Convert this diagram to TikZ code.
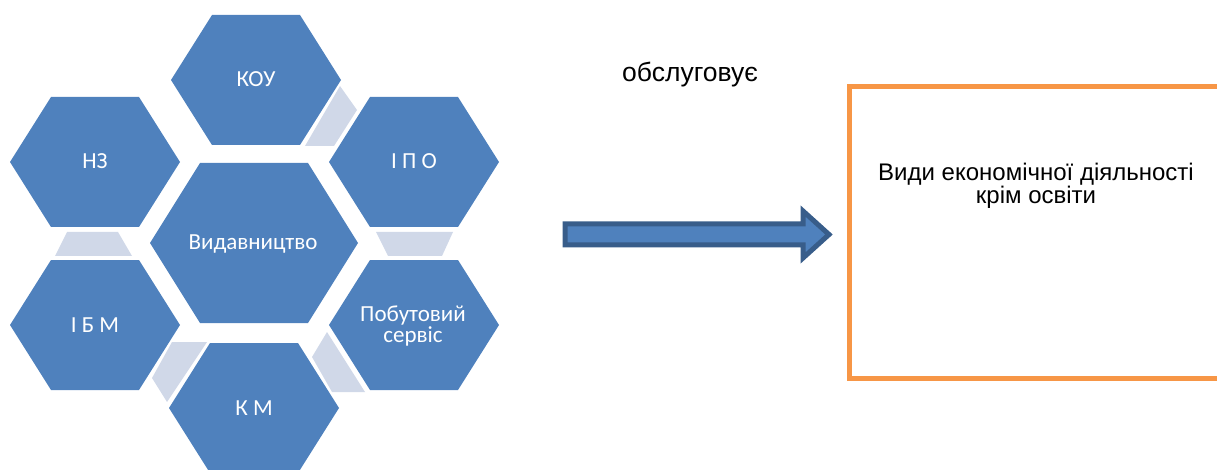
\documentclass[tikz,border=0pt]{standalone}
\usepackage{fontspec}
\setmainfont{Liberation Sans}
\newfontfamily\hexfont{Carlito}
\definecolor{hexblue}{HTML}{4F81BD}
\definecolor{linkgray}{HTML}{D0D8E8}
\definecolor{arrowedge}{HTML}{385D8A}
\definecolor{boxorange}{HTML}{F79646}
\newcommand\hexagonat[5]{% x, y, halfwidth, top halfwidth, halfheight
  \fill[hexblue] (#1-#3,#2) -- (#1-#4,#2-#5) -- (#1+#4,#2-#5) -- (#1+#3,#2)
    -- (#1+#4,#2+#5) -- (#1-#4,#2+#5) -- cycle;}
\begin{document}
\begin{tikzpicture}[x=1pt,y=-1pt,
  hexlabel/.style={text=white,font=\hexfont\fontsize{23}{21}\selectfont,anchor=base,inner sep=0pt,align=center},
  link/.style={fill=linkgray},
  plain/.style={font=\fontsize{24}{22}\selectfont,anchor=base,inner sep=0pt,align=center}]
\useasboundingbox (0,0) rectangle (1217,470);
% links
\fill[link] (340,86) -- (357,110) -- (334,146) -- (305,146) -- cycle;
\fill[link] (376,232) -- (453,232) -- (442,256) -- (388,256) -- cycle;
\fill[link] (67,232) -- (118,232) -- (132,256) -- (55,256) -- cycle;
\fill[link] (327,332) -- (312,357) -- (332,392) -- (365,392) -- cycle;
\fill[link] (172,342) -- (207,342) -- (167,402) -- (152,378) -- cycle;
% hexagons
\hexagonat{256}{80}{85}{44}{65}
\hexagonat{95}{162}{85}{44}{65}
\hexagonat{414}{162}{85}{44}{65}
\hexagonat{95}{325}{85}{44}{65}
\hexagonat{414}{325}{85}{44}{65}
\hexagonat{254}{408}{85}{44}{65}
\hexagonat{254}{243}{104}{54}{80}
% labels
\node[hexlabel] (kou) at (256,87) {КОУ};
\node[hexlabel] (nz) at (95,169) {НЗ};
\node[hexlabel] (ipo) at (414,169) {І П О};
\node[hexlabel] (vyd) at (253,250) {Видавництво};
\node[hexlabel] (ibm) at (95,332) {І Б М};
\node[hexlabel] (pob) at (413,342) {Побутовий\\сервіс};
\node[hexlabel] (km) at (254,415) {К М};
% arrow
\draw[arrowedge,fill=hexblue,line width=5pt,line join=miter]
  (565,224) -- (803,224) -- (803,211) -- (829,234.5) -- (803,258) -- (803,245) -- (565,245) -- cycle;
\node[plain,font=\fontsize{26.5}{24}\selectfont] (serv) at (690,82) {обслуговує};
% box
\draw[boxorange,line width=5pt] (1230,86.5) -- (849.5,86.5) -- (849.5,378) -- (1230,378);
\node[plain] (kinds) at (1036,204) {Види економічної діяльності\\крім освіти};
\end{tikzpicture}
\end{document}
